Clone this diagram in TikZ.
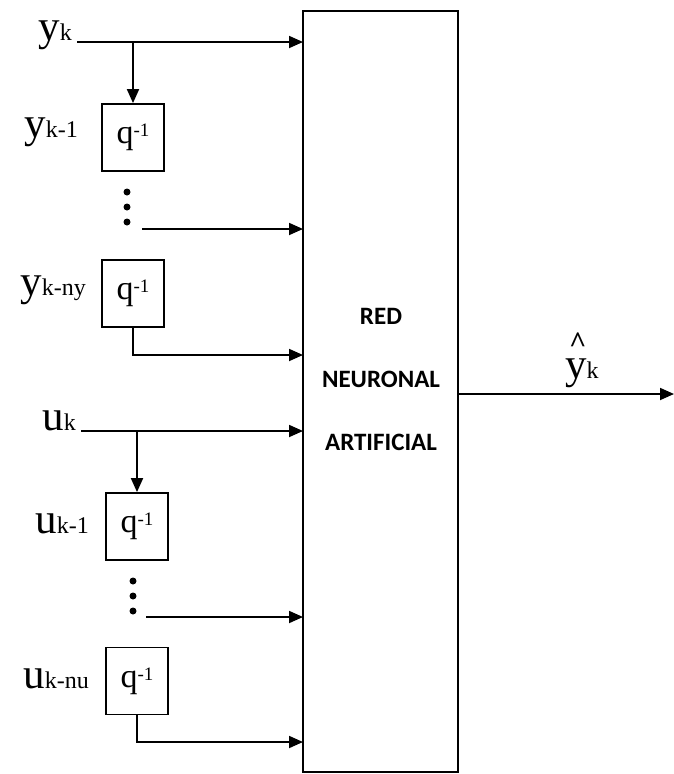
\documentclass[tikz,border=0pt]{standalone}
\usepackage{fontspec}
\setmainfont{Liberation Serif}
\newfontfamily\carlitofont{Carlito}
\usetikzlibrary{arrows.meta}
\newcommand{\lbl}[2]{{\fontsize{43}{43}\selectfont #1}{\fontsize{24}{24}\selectfont #2}}
\newcommand{\qinv}{{\fontsize{34}{34}\selectfont q}\raisebox{7pt}{\fontsize{19}{19}\selectfont -1}}
\begin{document}
\begin{tikzpicture}[x=1pt,y=-1pt,
  conn/.style={line width=1.8pt},
  arr/.style={conn,-{Triangle[length=14pt,width=12pt]}},
  delaybox/.style={draw,line width=1.8pt,minimum width=62pt,minimum height=67pt,inner sep=0pt},
  lab/.style={inner sep=0pt,anchor=base east},
  dot/.style={circle,fill,inner sep=0pt,minimum size=7pt},
  nnbox/.style={draw,line width=2pt,minimum width=155pt,minimum height=761pt,inner sep=0pt,outer sep=0pt}]
\useasboundingbox (0,0) rectangle (674,774);
% main block
\node[nnbox] (nn) at (380.5,391.5) {};
\node[align=center,inner sep=0pt,font={\carlitofont\bfseries\fontsize{25}{63}\selectfont}] (nntext) at (381,379.5) {RED\\NEURONAL\\ARTIFICIAL};
% row coordinates
\coordinate (r1) at (0,42);
\coordinate (r2) at (0,229);
\coordinate (r3) at (0,355);
\coordinate (r4) at (0,431);
\coordinate (r5) at (0,617);
\coordinate (r6) at (0,742);
% y inputs
\node[lab] (ly0) at (72,40) {\lbl{y}{k}};
\coordinate (yin) at (77,42);
\coordinate (yb) at (133,42);
\node[delaybox] (d1) at (133,137.5) {\qinv};
\node[lab] (ly1) at (78,137) {\lbl{y}{k-1}};
\node[dot] (dy1) at (127,192) {};
\node[dot] (dy2) at (127,207) {};
\node[dot] (dy3) at (127,222) {};
\coordinate (dyo) at (142,229);
\node[delaybox] (d2) at (133,293.5) {\qinv};
\node[lab] (ly2) at (86,295) {\lbl{y}{k-ny}};
\draw[arr] (yin) -- (nn.west |- r1);
\draw[arr] (yb) -- (d1.north);
\draw[arr] (dyo) -- (nn.west |- r2);
\draw[arr] (d2.south) |- (nn.west |- r3);
% u inputs
\node[lab] (lu0) at (76,430) {\lbl{u}{k}};
\coordinate (uin) at (81,431);
\coordinate (ub) at (137,431);
\node[delaybox] (d3) at (137,526.5) {\qinv};
\node[lab] (lu1) at (89,533) {\lbl{u}{k-1}};
\node[dot] (du1) at (133,581) {};
\node[dot] (du2) at (133,596) {};
\node[dot] (du3) at (133,611) {};
\coordinate (duo) at (146,617);
\node[delaybox] (d4) at (137,681) {\qinv};
\node[lab] (lu2) at (89,688) {\lbl{u}{k-nu}};
\draw[arr] (uin) -- (nn.west |- r4);
\draw[arr] (ub) -- (d3.north);
\draw[arr] (duo) -- (nn.west |- r5);
\draw[arr] (d4.south) |- (nn.west |- r6);
% output
\coordinate (yout) at (674,394);
\draw[arr] (nn.east |- yout) -- (yout);
\node[inner sep=0pt,anchor=base west] (lyh) at (565,378) {\rlap{\hspace{4pt}\raisebox{26pt}{\fontsize{30}{30}\selectfont\bfseries\textasciicircum}}\lbl{y}{k}};
\end{tikzpicture}
\end{document}
